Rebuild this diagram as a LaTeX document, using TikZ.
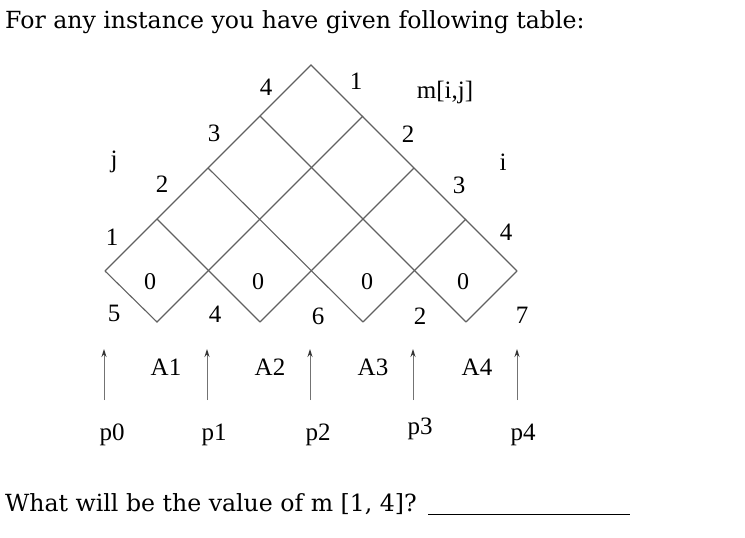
\documentclass[tikz,border=0pt]{standalone}
\usepackage{fontspec}
\usepackage{tikz}
\usetikzlibrary{arrows.meta}
\newfontfamily\timesfont{Liberation Serif}
\newfontfamily\bookfont{DejaVu Serif}

\begin{document}
\begin{tikzpicture}[x=1pt,y=-1pt,
        grid/.style={draw=black!62,line width=1.1pt},
        lbl/.style={inner sep=0pt,font=\timesfont\fontsize{25}{25}\selectfont},
        zero/.style={inner sep=0pt,font=\timesfont\fontsize{24}{24}\selectfont},
        txt/.style={inner sep=0pt,anchor=base west,font=\bookfont\fontsize{23.6}{26}\selectfont},
        up/.style={draw=black!55,line width=1pt,-{Stealth[length=8pt,width=5pt,black!80]}}]
        \useasboundingbox (0,0) rectangle (745,538);

        % texts
        \node[txt] (head) at (5,28) {For any instance you have given following table:};
        \node[txt] (ask) at (5,511) {What will be the value of m [1, 4]?};
        \coordinate (u0) at (428,514);
        \coordinate (u1) at (630,514);
        \draw[line width=0.8pt] (u0) -- (u1);

        % the grid
        \coordinate (top) at (311,65);
        \coordinate (m0) at (105,271);
        \coordinate (m4) at (517,271);
        \coordinate (b0) at (157,322);
        \coordinate (b1) at (260,322);
        \coordinate (b2) at (363,322);
        \coordinate (b3) at (466,322);
        \coordinate (r1) at (363,116);
        \coordinate (r2) at (414,168);
        \coordinate (r3) at (466,219);
        \coordinate (l1) at (260,116);
        \coordinate (l2) at (208,168);
        \coordinate (l3) at (157,219);

        \draw[grid] (m0) -- (top) -- (m4);
        \draw[grid] (m0) -- (b0) -- (r1);
        \draw[grid] (b1) -- (r2);
        \draw[grid] (b2) -- (r3);
        \draw[grid] (b3) -- (m4);
        \draw[grid] (b3) -- (l1);
        \draw[grid] (b2) -- (l2);
        \draw[grid] (b1) -- (l3);

        % labels round the grid
        \node[lbl] (j4) at (266,87) {4};
        \node[lbl] (j3) at (214,133) {3};
        \node[lbl] (j2) at (162,184) {2};
        \node[lbl] (j1) at (112,237) {1};
        \node[lbl] (jj) at (114,162) {j};
        \node[lbl] (i1) at (356,81) {1};
        \node[lbl] (i2) at (408,134) {2};
        \node[lbl] (i3) at (459,185) {3};
        \node[lbl] (i4) at (506,232) {4};
        \node[lbl] (ii) at (503,162) {i};
        \node[lbl] (mij) at (445,92) {m[i,j]};

        \node[zero] (z1) at (150,282) {0};
        \node[zero] (z2) at (258,282) {0};
        \node[zero] (z3) at (367,282) {0};
        \node[zero] (z4) at (463,282) {0};

        \node[lbl] (d0) at (114,313) {5};
        \node[lbl] (d1) at (215,314) {4};
        \node[lbl] (d2) at (318,316) {6};
        \node[lbl] (d3) at (420,316) {2};
        \node[lbl] (d4) at (522,315) {7};

        % the matrices
        \coordinate (s0) at (104,400);
        \coordinate (s1) at (207,400);
        \coordinate (s2) at (310,400);
        \coordinate (s3) at (413,400);
        \coordinate (s4) at (517,400);
        \coordinate (t0) at (104,349);
        \coordinate (t1) at (207,349);
        \coordinate (t2) at (310,349);
        \coordinate (t3) at (413,349);
        \coordinate (t4) at (517,349);
        \draw[up] (s0) -- (t0);
        \draw[up] (s1) -- (t1);
        \draw[up] (s2) -- (t2);
        \draw[up] (s3) -- (t3);
        \draw[up] (s4) -- (t4);

        \node[lbl,anchor=base] (a1) at (166,375) {A1};
        \node[lbl,anchor=base] (a2) at (270,375) {A2};
        \node[lbl,anchor=base] (a3) at (373,375) {A3};
        \node[lbl,anchor=base] (a4) at (477,375) {A4};

        \node[lbl,anchor=base] (p0) at (112,440) {p0};
        \node[lbl,anchor=base] (p1) at (214,440) {p1};
        \node[lbl,anchor=base] (p2) at (318,440) {p2};
        \node[lbl,anchor=base] (p3) at (420,434) {p3};
        \node[lbl,anchor=base] (p4) at (523,440) {p4};
\end{tikzpicture}
\end{document}
